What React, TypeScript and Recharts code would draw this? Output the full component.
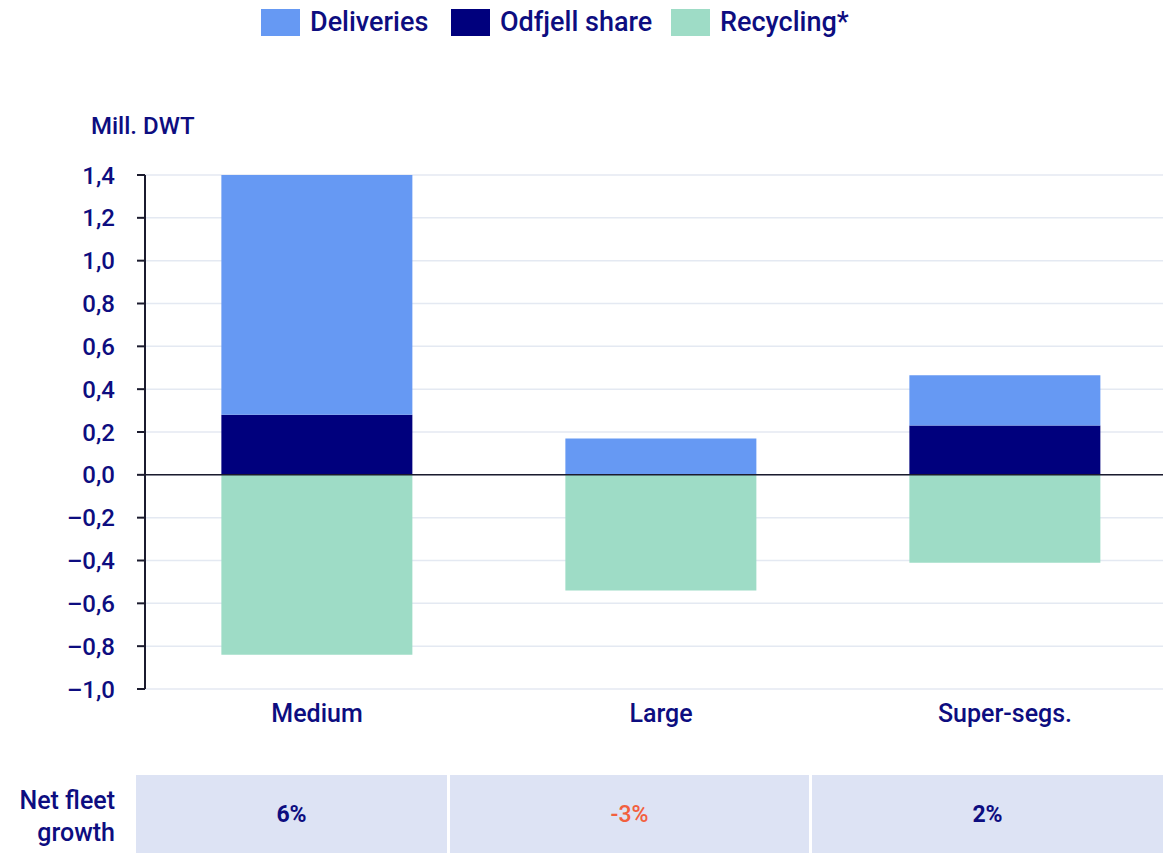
import React from 'react';
import { BarChart, Bar, XAxis, YAxis, CartesianGrid, ReferenceLine } from 'recharts';

const categories = ['Medium', 'Large', 'Super-segs.'];
const odfjellShare = [0.28, 0, 0.23];
const deliveries = [1.12, 0.17, 0.235];
const recycling = [-0.84, -0.54, -0.41];
const netFleetGrowth = ['6%', '-3%', '2%'];
const yTicks = [-1.0, -0.8, -0.6, -0.4, -0.2, 0, 0.2, 0.4, 0.6, 0.8, 1.0, 1.2, 1.4];

const NAVY = '#0d0d80';
const FONT = 'Roboto, "DejaVu Sans", sans-serif';

const colors = {
  deliveries: '#6699f3',
  odfjell: '#00007d',
  recycling: '#9edcc6',
};

const legendItems = [
  { label: 'Deliveries', color: colors.deliveries, left: 261 },
  { label: 'Odfjell share', color: colors.odfjell, left: 451 },
  { label: 'Recycling*', color: colors.recycling, left: 671 },
];

const tableCells = [
  { left: 136, width: 311 },
  { left: 450, width: 359 },
  { left: 812, width: 351 },
];

const data = categories.map((name, i) => ({
  name,
  odfjell: odfjellShare[i],
  deliveries: deliveries[i],
  recycling: recycling[i],
}));

const formatTick = (v: number) => {
  const s = Math.abs(v).toFixed(1).replace('.', ',');
  return v < -0.001 ? '–' + s : s;
};

const App: React.FC = () => {
  return (
    <div
      style={{
        position: 'absolute',
        left: 0,
        top: 0,
        width: 1163,
        height: 855,
        overflow: 'hidden',
        background: '#fff',
        fontFamily: FONT,
        color: NAVY,
        fontWeight: 500,
      }}
    >
      {legendItems.map((item) => (
        <div key={item.label} style={{ position: 'absolute', left: item.left, top: 9, display: 'flex', alignItems: 'center' }}>
          <div style={{ width: 39, height: 27, background: item.color }} />
          <span style={{ marginLeft: 10, fontSize: 27, lineHeight: '27px' }}>{item.label}</span>
        </div>
      ))}

      <div style={{ position: 'absolute', left: 91, top: 112, fontSize: 24, lineHeight: '28px' }}>Mill. DWT</div>

      {/* plot runs a little past the right edge of the page, as in the original */}
      <div style={{ position: 'absolute', left: 0, top: 0 }}>
        <BarChart
          width={1177}
          height={740}
          data={data}
          margin={{ top: 175, right: 0, left: 0, bottom: 0 }}
          stackOffset="sign"
          barCategoryGap="22.2%"
        >
          <CartesianGrid vertical={false} stroke="#e4e9f2" strokeWidth={1.5} />
          <XAxis
            dataKey="name"
            height={51}
            axisLine={false}
            tickLine={false}
            tickSize={6}
            tickMargin={9}
            tick={{ fill: NAVY, fontSize: 25, fontFamily: FONT, fontWeight: 500 }}
          />
          <YAxis
            width={145}
            domain={[-1, 1.4]}
            ticks={yTicks}
            interval={0}
            allowDataOverflow
            tickFormatter={formatTick}
            axisLine={{ stroke: '#1b1b2e', strokeWidth: 2 }}
            tickLine={{ stroke: '#1b1b2e', strokeWidth: 2 }}
            tickSize={8}
            tickMargin={22}
            tick={{ fill: NAVY, fontSize: 24, fontFamily: FONT, fontWeight: 500 }}
          />
          <Bar dataKey="odfjell" stackId="a" fill={colors.odfjell} isAnimationActive={false} />
          <Bar dataKey="deliveries" stackId="a" fill={colors.deliveries} isAnimationActive={false} />
          <Bar dataKey="recycling" stackId="a" fill={colors.recycling} isAnimationActive={false} />
          <ReferenceLine y={0} stroke="#1b1b2e" strokeWidth={1.5} />
        </BarChart>
      </div>

      <div
        style={{
          position: 'absolute',
          right: 1163 - 115,
          top: 785,
          fontSize: 25,
          lineHeight: '32px',
          textAlign: 'right',
        }}
      >
        Net fleet
        <br />
        growth
      </div>

      {tableCells.map((cell, i) => {
        const val = netFleetGrowth[i];
        const neg = val.startsWith('-');
        return (
          <div
            key={i}
            style={{
              position: 'absolute',
              left: cell.left,
              top: 775,
              width: cell.width,
              height: 78,
              background: '#dde3f4',
              display: 'flex',
              alignItems: 'center',
              justifyContent: 'center',
              fontSize: 23,
              fontWeight: neg ? 500 : 700,
              color: neg ? '#f2603e' : NAVY,
            }}
          >
            {val}
          </div>
        );
      })}
    </div>
  );
};

export default App;
